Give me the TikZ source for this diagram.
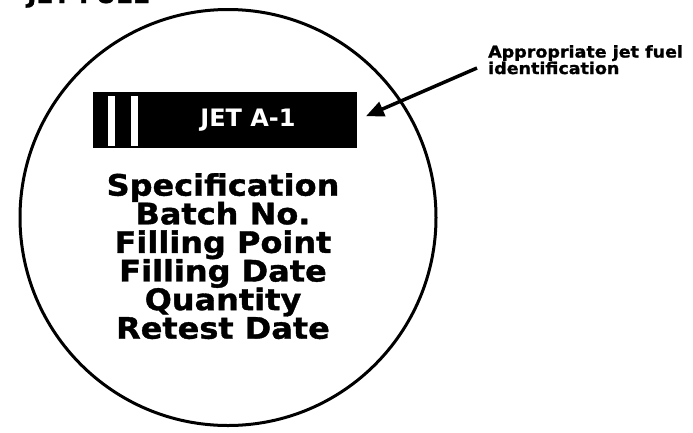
\documentclass[tikz,border=0pt]{standalone}
\usepackage{fontspec}
\newfontfamily\heavyfont[FakeBold=1.2, FakeStretch=1.08]{DejaVu Sans Bold}
\newfontfamily\plaquefont{DejaVu Sans Bold}
\newcommand\tightlines{\setlength{\lineskiplimit}{-20pt}}
\usetikzlibrary{positioning, arrows.meta, calc}

\begin{document}
\begin{tikzpicture}[ x = 1pt, y = -1pt
                     , >={Triangle[width=15pt, length=18pt]}
                     , every node/.style = { inner sep = 0pt
                                         , align = center }
                     , stripe/.style = { fill = white
                                       , minimum width = 7pt
                                       , minimum height = 50pt }
                     ]

  \useasboundingbox (0,0) rectangle (693,432);

  \node (title) [anchor = base west, font = \heavyfont\fontsize{23}{23}\selectfont] at (27,3) {JET FUEL};

  \node (tag) [circle, draw, line width = 3pt, minimum size = 416pt] at (228,217.5) {};

  \node (jetbar) [fill = black, minimum width = 264pt, minimum height = 56pt] at (225,120) {};
  \foreach \x in {111.5, 134}
    \node [stripe] at (\x,120.5) {};
  \node (jetname) [text = white, font = \plaquefont\fontsize{24}{24}\selectfont] at (248,120) {JET A-1};

  \node (details) [font = \heavyfont\fontsize{29.6}{28.6}\selectfont\tightlines, anchor = north] at (223,173)
    {Specification\\ Batch No.\\ Filling Point\\ Filling Date\\ Quantity\\ Retest Date};

  \node (ident) [anchor = north west, align = left, font = \heavyfont\fontsize{16.2}{16.5}\selectfont\tightlines] at (488,45)
    {Appropriate jet fuel\\ identification};

  % arrow to the plaque
  \coordinate (identtail) at (477,68);
  \draw[->, line width = 3.5pt, shorten > = 9.5pt] (identtail) -- (jetbar.east);

\end{tikzpicture}
\end{document}
